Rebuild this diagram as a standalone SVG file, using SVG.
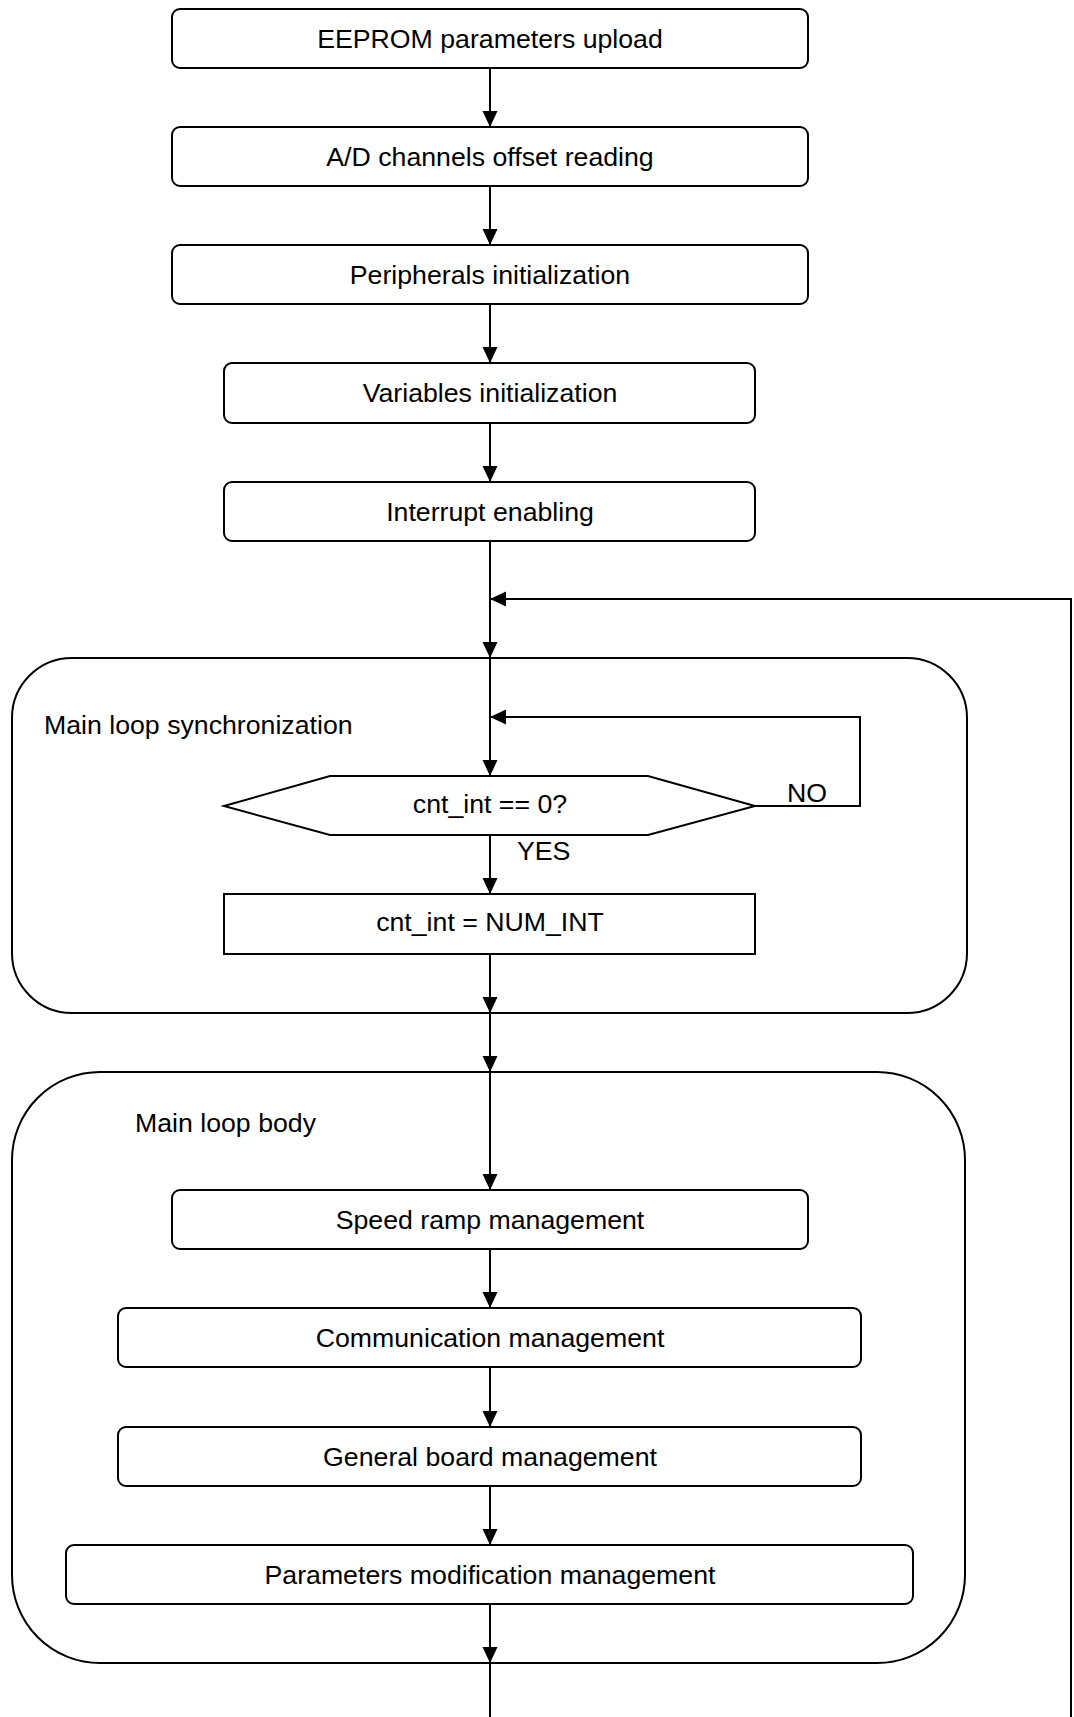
<svg xmlns="http://www.w3.org/2000/svg" width="1074" height="1717" viewBox="0 0 1074 1717">
<style>
.box{fill:#fff;stroke:#000;stroke-width:2}
.cont{fill:none;stroke:#000;stroke-width:2}
.ln{fill:none;stroke:#000;stroke-width:2}
.t{font-family:"Liberation Sans",Arial,sans-serif;font-size:26.7px;fill:#000}
.c{text-anchor:middle}
</style>
<defs>
<marker id="ah" markerUnits="userSpaceOnUse" markerWidth="16" markerHeight="16" viewBox="0 0 16 16" refX="16" refY="8" orient="auto">
<path d="M0,0.5 L16,8 L0,15.5 Z" fill="#000"/>
</marker>
</defs>
<rect width="1074" height="1717" fill="#fff"/>
<g id="sync-container">
<rect class="cont" x="12" y="658" width="955" height="355" rx="60" ry="60"/>
<text class="t" x="44" y="734">Main loop synchronization</text>
</g>
<g id="body-container">
<rect class="cont" x="12" y="1072" width="953" height="591" rx="88" ry="88"/>
<text class="t" x="135" y="1132">Main loop body</text>
</g>
<g id="connectors">
<path class="ln" d="M490,68 V127" marker-end="url(#ah)"/>
<path class="ln" d="M490,186 V245" marker-end="url(#ah)"/>
<path class="ln" d="M490,304 V363" marker-end="url(#ah)"/>
<path class="ln" d="M490,423 V482" marker-end="url(#ah)"/>
<path class="ln" d="M490,541 V658" marker-end="url(#ah)"/>
<path class="ln" d="M1071,1717 V599 H490" marker-end="url(#ah)"/>
<path class="ln" d="M490,658 V776" marker-end="url(#ah)"/>
<path class="ln" d="M755,806 H860 V717 H490" marker-end="url(#ah)"/>
<path class="ln" d="M490,835 V894" marker-end="url(#ah)"/>
<path class="ln" d="M490,954 V1013" marker-end="url(#ah)"/>
<path class="ln" d="M490,1013 V1072" marker-end="url(#ah)"/>
<path class="ln" d="M490,1072 V1190" marker-end="url(#ah)"/>
<path class="ln" d="M490,1249 V1308" marker-end="url(#ah)"/>
<path class="ln" d="M490,1367 V1427" marker-end="url(#ah)"/>
<path class="ln" d="M490,1486 V1545" marker-end="url(#ah)"/>
<path class="ln" d="M490,1604 V1663" marker-end="url(#ah)"/>
<path class="ln" d="M490,1663 V1717"/>
<text class="t" x="787" y="802">NO</text>
<text class="t" x="517" y="860">YES</text>
</g>
<g id="n1"><rect class="box" x="172" y="9" width="636" height="59" rx="8"/><text class="t c" x="490" y="48">EEPROM parameters upload</text></g>
<g id="n2"><rect class="box" x="172" y="127" width="636" height="59" rx="8"/><text class="t c" x="490" y="166">A/D channels offset reading</text></g>
<g id="n3"><rect class="box" x="172" y="245" width="636" height="59" rx="8"/><text class="t c" x="490" y="284">Peripherals initialization</text></g>
<g id="n4"><rect class="box" x="224" y="363" width="531" height="60" rx="8"/><text class="t c" x="490" y="402">Variables initialization</text></g>
<g id="n5"><rect class="box" x="224" y="482" width="531" height="59" rx="8"/><text class="t c" x="490" y="521">Interrupt enabling</text></g>
<g id="n6"><polygon class="box" points="224,806 330,776 648,776 755,806 648,835 330,835"/><text class="t c" x="490" y="813">cnt_int == 0?</text></g>
<g id="n7"><rect class="box" x="224" y="894" width="531" height="60"/><text class="t c" x="490" y="931">cnt_int = NUM_INT</text></g>
<g id="n8"><rect class="box" x="172" y="1190" width="636" height="59" rx="8"/><text class="t c" x="490" y="1229">Speed ramp management</text></g>
<g id="n9"><rect class="box" x="118" y="1308" width="743" height="59" rx="8"/><text class="t c" x="490" y="1347">Communication management</text></g>
<g id="n10"><rect class="box" x="118" y="1427" width="743" height="59" rx="8"/><text class="t c" x="490" y="1466">General board management</text></g>
<g id="n11"><rect class="box" x="66" y="1545" width="847" height="59" rx="8"/><text class="t c" x="490" y="1584">Parameters modification management</text></g>
</svg>
